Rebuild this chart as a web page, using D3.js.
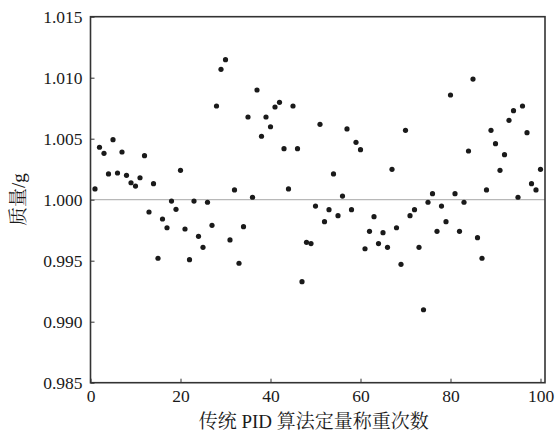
<!DOCTYPE html>
<html><head><meta charset="utf-8">
<script src="https://cdn.jsdelivr.net/npm/d3@7"></script>
<style>body{margin:0;background:#fff}svg{display:block}</style>
</head><body>
<svg id="c" width="556" height="437"></svg>
<script>
const runs = d3.range(1, 101);
const mass = [
1.00088,1.00430,1.00380,1.00211,1.00492,1.00219,1.00391,1.00200,1.00139,1.00112,
1.00180,1.00361,0.99899,1.00131,0.99520,0.99842,0.99770,0.99989,0.99921,1.00241,
0.99760,0.99508,0.99989,0.99700,0.99610,0.99979,0.99790,1.00768,1.01069,1.01148,
0.99670,1.00080,0.99479,0.99779,1.00678,1.00020,1.00899,1.00520,1.00678,1.00598,
1.00760,1.00798,1.00418,1.00088,1.00768,1.00418,0.99328,0.99651,0.99640,0.99948,
1.00618,0.99820,0.99918,1.00211,0.99869,1.00030,1.00580,0.99918,1.00470,1.00410,
0.99598,0.99741,0.99861,0.99640,0.99730,0.99610,1.00249,0.99770,0.99470,1.00569,
0.99869,0.99918,0.99610,0.99098,0.99979,1.00049,0.99741,0.99948,0.99820,1.00858,
1.00049,0.99741,0.99979,1.00399,1.00989,0.99689,0.99520,1.00080,1.00569,1.00459,
1.00241,1.00369,1.00651,1.00730,1.00020,1.00768,1.00549,1.00131,1.00080,1.00249];
const xTicks = [0,20,40,60,80,100];
const yTicks = [0.985,0.990,0.995,1.000,1.005,1.010,1.015];
const refValue = 1.000;
const xLabel = "传统 PID 算法定量称重次数";
const yLabel = "质量/g";

const svg = d3.select("#c");
const L = 90.5, R = 545, T = 16.7, B = 382.7;
const x = d3.scaleLinear().domain([0, 101]).range([L, R]);
const y = d3.scaleLinear().domain([0.985, 1.015]).range([B, T]);
const font = "'Liberation Serif','Times New Roman','Noto Serif CJK SC','Noto Sans CJK SC',serif";

// reference line
svg.append("line").attr("x1", L).attr("x2", R).attr("y1", y(refValue)).attr("y2", y(refValue))
  .attr("stroke", "#b8b8b8").attr("stroke-width", 1.2);

// points
svg.append("g").selectAll("circle").data(runs).join("circle")
  .attr("cx", (d) => x(d)).attr("cy", (d, i) => y(mass[i])).attr("r", 2.6).attr("fill", "#1a1a1a");

// axes
const ax = svg.append("g").attr("transform", `translate(0,${B})`)
  .call(d3.axisBottom(x).tickValues(xTicks).tickSizeInner(-4).tickSizeOuter(0).tickPadding(7).tickFormat(d3.format("d")));
const ay = svg.append("g").attr("transform", `translate(${L},0)`)
  .call(d3.axisLeft(y).tickValues(yTicks).tickSizeInner(-4).tickSizeOuter(0).tickPadding(8).tickFormat(d3.format(".3f")));
[ax, ay].forEach(g => {
  g.select(".domain").remove();
  g.selectAll(".tick line").attr("stroke", "#333").attr("stroke-width", 1);
  g.selectAll(".tick text").attr("fill", "#1a1a1a").style("font-family", font).style("font-size", "17.5px");
});
ay.selectAll(".tick text").attr("dy", "0.35em");

// frame
svg.append("rect").attr("x", L).attr("y", T).attr("width", R - L).attr("height", B - T)
  .attr("fill", "none").attr("stroke", "#333").attr("stroke-width", 1.6);

// labels
svg.append("text").attr("x", (L + R) / 2 - 4).attr("y", 428).attr("text-anchor", "middle")
  .style("font-family", font).style("font-size", "19px").attr("fill", "#1a1a1a").text(xLabel);
svg.append("text").attr("transform", `translate(25,${(T + B) / 2}) rotate(-90)`).attr("text-anchor", "middle")
  .style("font-family", font).style("font-size", "19px").attr("fill", "#1a1a1a").text(yLabel);
</script>
</body></html>
